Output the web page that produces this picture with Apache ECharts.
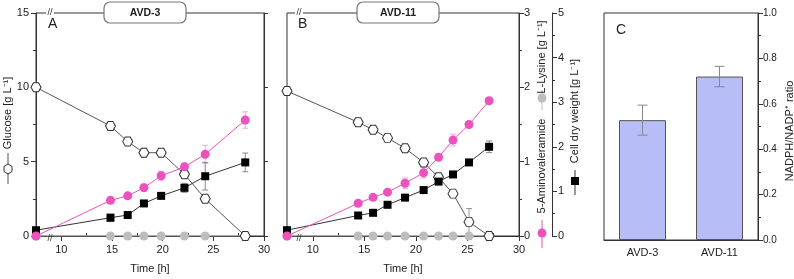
<!DOCTYPE html>
<html>
<head>
<meta charset="utf-8">
<script src="https://cdn.jsdelivr.net/npm/echarts@6/dist/echarts.min.js"></script>
<style>
html, body { margin: 0; background: #fff; }
#main { width: 794px; height: 279px; }
</style>
</head>
<body>
<div id="main"></div>
<script>
// ---- panel A (AVD-3) ----
const timeA = [7.5, 14.85, 16.55, 18.15, 19.85, 22.15, 24.2, 28.15];
const glucoseA = [10.0, 7.4, 6.35, 5.6, 5.6, 4.15, 2.5, 0];
const glucoseErrA = [0, 0.2, 0.1, 0.3, 0.1, 0.2, 0.1, 0];
const avamA = [0, 0.48, 0.54, 0.65, 0.81, 0.93, 1.10, 1.56];
const avamErrA = [0, 0.02, 0.02, 0.05, 0.06, 0.05, 0.12, 0.11];
const lysineA = [0, 0, 0, 0, 0, 0, 0, 0];
const cdwA = [0.13, 0.41, 0.47, 0.73, 0.90, 1.08, 1.34, 1.65];
const cdwErrA = [0, 0.08, 0.03, 0.05, 0.05, 0.1, 0.31, 0.21];

// ---- panel B (AVD-11) ----
const timeB = [7.5, 14.4, 15.85, 17.25, 18.95, 20.75, 22.2, 23.6, 25.15, 27.1];
const glucoseB = [9.75, 7.65, 7.15, 6.6, 5.9, 4.95, 3.95, 2.85, 0.95, 0];
const glucoseErrB = [0, 0.1, 0.1, 0.1, 0.1, 0.2, 0.1, 0.1, 0.9, 0];
const avamB = [0, 0.44, 0.52, 0.59, 0.71, 0.85, 1.06, 1.29, 1.50, 1.82];
const avamErrB = [0, 0.02, 0.02, 0.03, 0.07, 0.07, 0.03, 0.08, 0.03, 0.03];
const lysineB = [0, 0, 0, 0, 0, 0, 0, 0, 0, 0];
const cdwB = [0.13, 0.46, 0.52, 0.70, 0.86, 1.03, 1.22, 1.38, 1.65, 2.0];
const cdwErrB = [0, 0.03, 0.03, 0.04, 0.04, 0.04, 0.04, 0.05, 0.05, 0.13];

// ---- panel C ----
const strains = ['AVD-3', 'AVD-11'];
const ratio = [0.528, 0.72];
const ratioErr = [0.066, 0.045];

const timeTicks = [10, 15, 20, 25, 30];
const timeMinorTicks = [12.5, 17.5, 22.5, 27.5];

const FONT = 'Liberation Sans, Arial, sans-serif';
const AXIS = '#333';
const PINK = '#ec52bd';
const GREY = '#bdbdbd';
const HEX = 'path://M-1,0 L-0.5,-0.866 L0.5,-0.866 L1,0 L0.5,0.866 L-0.5,0.866Z';

const pairs = (t, v) => t.map((x, i) => [x, v[i]]);
const errs = (t, v, e) => t.map((x, i) => [x, v[i] - e[i], v[i] + e[i]]).filter((d, i) => e[i] > 0);

function errorBar(params, api) {
    const x = api.value(0);
    const lo = api.coord([x, api.value(1)]);
    const hi = api.coord([x, api.value(2)]);
    const w = params.seriesName === 'ratioErr' ? 5 : 3;
    const style = { stroke: api.visual('color'), lineWidth: 1, fill: null };
    return {
        type: 'group',
        children: [
            { type: 'line', shape: { x1: lo[0], y1: lo[1], x2: hi[0], y2: hi[1] }, style },
            { type: 'line', shape: { x1: lo[0] - w, y1: lo[1], x2: lo[0] + w, y2: lo[1] }, style },
            { type: 'line', shape: { x1: hi[0] - w, y1: hi[1], x2: hi[0] + w, y2: hi[1] }, style }
        ]
    };
}

function timeAxis(grid) {
    return [{
        type: 'value', gridIndex: grid, min: 7.5, max: 30,
        axisLine: { show: true, lineStyle: { color: AXIS } },
        axisTick: { show: true, length: 5, customValues: timeTicks, lineStyle: { color: AXIS } },
        axisLabel: { customValues: timeTicks, color: '#222', fontSize: 11, margin: 8, fontFamily: FONT },
        splitLine: { show: false },
        name: 'Time [h]', nameLocation: 'middle', nameGap: 27,
        nameTextStyle: { color: '#222', fontSize: 11, fontFamily: FONT }
    }, {
        type: 'value', gridIndex: grid, min: 7.5, max: 30,
        axisLine: { show: false },
        axisTick: { show: true, length: 3, customValues: timeMinorTicks, lineStyle: { color: AXIS } },
        axisLabel: { show: false },
        splitLine: { show: false }
    }];
}

function valAxis(grid, max, interval, extra) {
    return Object.assign({
        type: 'value', gridIndex: grid, min: 0, max: max, interval: interval,
        axisLine: { show: true, lineStyle: { color: AXIS } },
        axisTick: { show: true, length: 5, lineStyle: { color: AXIS } },
        minorTick: { show: true, splitNumber: 2, length: 3, lineStyle: { color: AXIS } },
        axisLabel: { color: '#222', fontSize: 11, fontFamily: FONT },
        splitLine: { show: false }
    }, extra);
}

function panelSeries(x, yG, yA, yC, t, glu, gluE, avam, avamE, lys, cdw, cdwE) {
    return [
        { type: 'custom', xAxisIndex: x, yAxisIndex: yG, renderItem: errorBar, itemStyle: { color: '#999' }, data: errs(t, glu, gluE), z: 1, encode: { x: 0, y: [1, 2] } },
        { type: 'custom', xAxisIndex: x, yAxisIndex: yA, renderItem: errorBar, itemStyle: { color: '#f3a6d9' }, data: errs(t, avam, avamE), z: 1, encode: { x: 0, y: [1, 2] } },
        { type: 'custom', xAxisIndex: x, yAxisIndex: yC, renderItem: errorBar, itemStyle: { color: '#888' }, data: errs(t, cdw, cdwE), z: 1, encode: { x: 0, y: [1, 2] } },
        {
            type: 'line', name: 'L-Lysine', xAxisIndex: x, yAxisIndex: yA, data: pairs(t, lys),
            symbol: 'circle', symbolSize: 9, itemStyle: { color: GREY }, lineStyle: { color: GREY, width: 1 }, z: 2
        },
        {
            type: 'line', name: 'Glucose', xAxisIndex: x, yAxisIndex: yG, data: pairs(t, glu),
            symbol: HEX, symbolSize: [10, 9], itemStyle: { color: '#fff', borderColor: '#333', borderWidth: 1 },
            lineStyle: { color: '#555', width: 1 }, z: 3
        },
        {
            type: 'line', name: 'CDW', xAxisIndex: x, yAxisIndex: yC, data: pairs(t, cdw),
            symbol: 'rect', symbolSize: 8, itemStyle: { color: '#000' }, lineStyle: { color: '#333', width: 1 }, z: 4
        },
        {
            type: 'line', name: '5-Aminovaleramide', xAxisIndex: x, yAxisIndex: yA, data: pairs(t, avam),
            symbol: 'circle', symbolSize: 9, itemStyle: { color: PINK }, lineStyle: { color: PINK, width: 1 }, z: 5
        }
    ];
}

function vtext(x, y, text, size) {
    return {
        type: 'text', x: x, y: y, rotation: Math.PI / 2, z: 100,
        style: { text: text, fontSize: size || 11, fontFamily: FONT, fill: '#222', align: 'center', verticalAlign: 'middle' }
    };
}
function vline(x, y1, y2, color) {
    return { type: 'line', shape: { x1: x, y1: y1, x2: x, y2: y2 }, style: { stroke: color, lineWidth: 1 }, z: 100 };
}
function labelBox(x, text) {
    return [
        { type: 'rect', shape: { x: x, y: 2, width: 82, height: 21, r: 6 }, style: { fill: '#fff', stroke: '#777', lineWidth: 1.2 }, z: 100 },
        { type: 'text', x: x + 41, y: 13, z: 101, style: { text: text, fontSize: 10.5, fontWeight: 'bold', fontFamily: FONT, fill: '#222', align: 'center', verticalAlign: 'middle' } }
    ];
}
function breakMark(x, y) {
    return [
        { type: 'rect', shape: { x: x - 4, y: y - 2, width: 8, height: 4 }, style: { fill: '#fff' }, z: 100 },
        { type: 'text', x: x, y: y, z: 101, style: { text: '//', fontSize: 9, fontFamily: FONT, fill: '#333', align: 'center', verticalAlign: 'middle' } }
    ];
}

const chart = echarts.init(document.getElementById('main'));
const option = {
    animation: false,
    textStyle: { fontFamily: FONT },
    grid: [
        { left: 36, top: 13, width: 228, height: 226, show: true, borderColor: AXIS, borderWidth: 1 },
        { left: 287, top: 13, width: 232, height: 226, show: true, borderColor: AXIS, borderWidth: 1 },
        { left: 604, top: 13, width: 154, height: 227, show: true, borderColor: AXIS, borderWidth: 1 }
    ],
    xAxis: [
        ...timeAxis(0),
        ...timeAxis(1),
        {
            type: 'category', gridIndex: 2, data: strains,
            axisLine: { show: true, lineStyle: { color: AXIS } },
            axisTick: { show: false },
            axisLabel: { color: '#222', fontSize: 11, margin: 7, fontFamily: FONT }
        }
    ],
    yAxis: [
        valAxis(0, 15, 5, { position: 'left', axisLabel: { color: '#222', fontSize: 11, margin: 7, fontFamily: FONT } }),
        valAxis(0, 15, 5, { position: 'right', axisLabel: { show: false }, minorTick: { show: false }, axisTick: { length: 4, lineStyle: { color: AXIS } } }),
        valAxis(0, 3, 1, { show: false }),
        valAxis(0, 5, 1, { show: false }),
        valAxis(1, 15, 5, { show: false }),
        valAxis(1, 3, 1, { position: 'right', axisLabel: { color: '#222', fontSize: 11, margin: 5, fontFamily: FONT } }),
        valAxis(1, 5, 1, { position: 'right', offset: 33, axisLabel: { color: '#222', fontSize: 11, margin: 6, fontFamily: FONT } }),
        valAxis(2, 1, 0.2, {
            position: 'right',
            axisLabel: { color: '#222', fontSize: 10, margin: 5, fontFamily: FONT, formatter: v => v.toFixed(1) }
        })
    ],
    series: [
        ...panelSeries(0, 0, 2, 3, timeA, glucoseA, glucoseErrA, avamA, avamErrA, lysineA, cdwA, cdwErrA),
        ...panelSeries(2, 4, 5, 6, timeB, glucoseB, glucoseErrB, avamB, avamErrB, lysineB, cdwB, cdwErrB),
        {
            type: 'bar', xAxisIndex: 4, yAxisIndex: 7, data: ratio, barWidth: 47,
            itemStyle: { color: '#b7bef7', borderColor: '#555', borderWidth: 1 }
        },
        {
            type: 'custom', name: 'ratioErr', xAxisIndex: 4, yAxisIndex: 7, renderItem: errorBar, z: 5,
            itemStyle: { color: '#888' }, encode: { x: 0, y: [1, 2] },
            data: ratio.map((v, i) => [i, v - ratioErr[i], v + ratioErr[i]])
        }
    ],
    graphic: [
        ...labelBox(104, 'AVD-3'),
        ...labelBox(357, 'AVD-11'),
        ...breakMark(50, 13), ...breakMark(50, 239),
        ...breakMark(299, 13), ...breakMark(299, 239),
        { type: 'text', x: 48, y: 24, z: 100, style: { text: 'A', fontSize: 14, fontFamily: FONT, fill: '#222', verticalAlign: 'middle' } },
        { type: 'text', x: 298, y: 24, z: 100, style: { text: 'B', fontSize: 14, fontFamily: FONT, fill: '#222', verticalAlign: 'middle' } },
        { type: 'text', x: 616, y: 30, z: 100, style: { text: 'C', fontSize: 14, fontFamily: FONT, fill: '#222', verticalAlign: 'middle' } },
        // left axis title: glucose
        vtext(8, 113, 'Glucose [g L⁻¹]'),
        vline(8, 153, 184, '#555'),
        { type: 'polygon', z: 101, shape: { points: [[8, 164], [12, 166.5], [12, 171.5], [8, 174], [4, 171.5], [4, 166.5]] }, style: { fill: '#fff', stroke: '#333', lineWidth: 1 } },
        // right axis title: 5-aminovaleramide / lysine
        vtext(542, 166, '5-Aminovaleramide'),
        vline(542, 220, 248, PINK),
        { type: 'circle', z: 101, shape: { cx: 542, cy: 233, r: 4.5 }, style: { fill: PINK } },
        vline(542, 90, 110, GREY),
        { type: 'circle', z: 101, shape: { cx: 542, cy: 98, r: 4.5 }, style: { fill: GREY } },
        vtext(542, 57, 'L-Lysine [g L⁻¹]'),
        // right axis title: CDW
        vtext(575, 111, 'Cell dry weight [g L⁻¹]'),
        vline(575, 170, 195, '#333'),
        { type: 'rect', z: 101, shape: { x: 571, y: 177, width: 8, height: 8 }, style: { fill: '#000' } },
        // panel C title
        vtext(790, 131, 'NADPH/NADP⁺ ratio')
    ]
};
chart.setOption(option);
</script>
</body>
</html>
